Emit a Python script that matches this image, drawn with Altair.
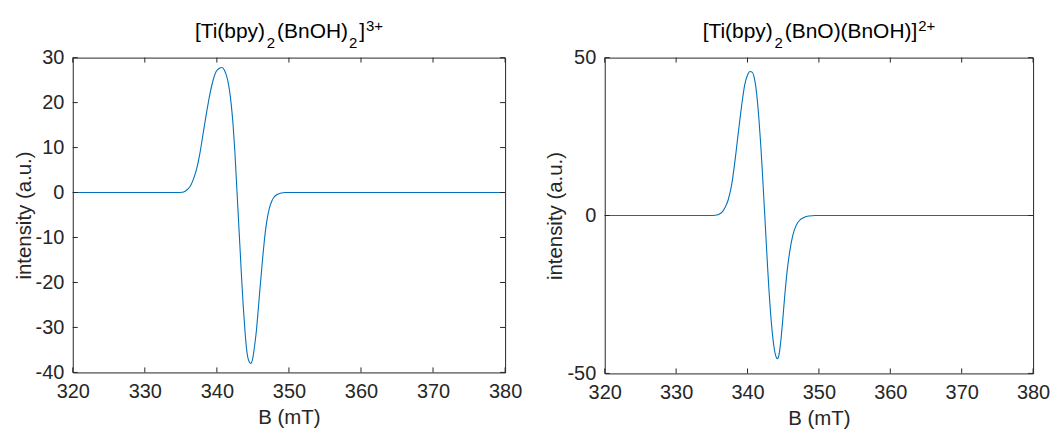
import altair as alt
import pandas as pd

# ---- data ----
x_ticks = [320, 330, 340, 350, 360, 370, 380]
left_y_ticks = [-40, -30, -20, -10, 0, 10, 20, 30]
right_y_ticks = [-50, 0, 50]

left_B = [320, 330, 334.5, 335.2, 335.6, 336.0, 336.4, 336.8, 337.2, 337.6, 338.1,
          338.55, 339.0, 339.45, 339.9, 340.3, 340.7, 341.05, 341.5, 342.0, 342.25,
          342.5, 342.8, 343.0, 343.2, 343.45, 343.67, 343.9, 344.1, 344.4, 344.7,
          345.0, 345.26, 345.5, 345.7, 345.95, 346.2, 346.4, 346.6, 346.8, 347.0,
          347.3, 347.6, 347.9, 348.3, 348.8, 349.5, 355, 380]
left_I = [0, 0, 0, 0.05, 0.3, 0.8, 1.7, 3.2, 5.3, 8.3, 13.2,
          17.6, 21.6, 24.8, 26.9, 27.6, 27.8, 27.2, 25.0, 19.5, 15.0,
          9.0, 0.0, -6.0, -12.0, -19.5, -25.5, -30.8, -34.5, -37.3, -38.0,
          -36.7, -33.8, -30.5, -26.8, -22.0, -17.4, -13.8, -10.5, -7.8, -5.7,
          -3.4, -2.0, -1.1, -0.5, -0.15, 0, 0, 0]

right_B = [320, 330, 334.3, 335.2, 335.7, 336.0, 336.4, 336.8, 337.3, 337.8, 338.2,
           338.7, 339.16, 339.6, 340.0, 340.35, 340.65, 340.95, 341.26, 341.6, 341.85,
           342.1, 342.42, 342.6, 342.8, 343.0, 343.2, 343.45, 343.72, 344.05, 344.2,
           344.4, 344.65, 344.93, 345.2, 345.53, 345.9, 346.35, 346.8, 347.3, 347.9,
           348.6, 349.5, 355, 380]
right_I = [0, 0, 0, 0.02, 0.15, 0.4, 1.0, 2.3, 5.0, 10.0, 16.5,
           26.0, 34.5, 41.3, 44.5, 45.6, 45.4, 43.6, 39.0, 30.5, 22.5,
           13.0, 0, -7.6, -15.8, -23.4, -30.0, -36.6, -41.8, -45.0, -45.3,
           -44.2, -40.0, -33.2, -25.8, -18.0, -11.6, -6.2, -3.2, -1.5, -0.6,
           -0.15, 0, 0, 0]

# title pieces: (text, role) — role: main / sub / sup
left_title = [("[Ti(bpy)", "main"), ("2", "sub"), ("(BnOH)", "main"), ("2", "sub"),
              ("]", "main"), ("3+", "sup")]
right_title = [("[Ti(bpy)", "main"), ("2", "sub"), ("(BnO)(BnOH)", "main"),
               ("]", "main"), ("2+", "sup")]

FONT = "Liberation Sans"
AX = "#262626"
LINE = "#0072BD"
TICK = 5
MINUS_FIX = "replace(datum.label, '\u2212', '-')"

# Arial / Liberation Sans advance widths (per 1000 em)
ADV = {"[": 278, "]": 278, "T": 611, "i": 222, "(": 333, ")": 333, "b": 556,
       "p": 556, "y": 500, "B": 667, "n": 556, "O": 778, "H": 722, "2": 556,
       "3": 556, "+": 584}
MAIN_FS, SMALL_FS = 21, 15
BASE = {"main": -19.5, "sub": -9.5, "sup": -27.0}


def text_width(s, fs):
    return sum(ADV[c] for c in s) * fs / 1000.0


def title_layers(pieces, w):
    placed = []
    x = 0.0
    for txt, role in pieces:
        fs = MAIN_FS if role == "main" else SMALL_FS
        if role == "sub":
            x += 1.0
        elif role == "sup":
            x += 0.8
        placed.append((txt, role, fs, x))
        x += text_width(txt, fs)
        if role == "sub":
            x += 2.0
    start = w / 2.0 - x / 2.0
    layers = []
    for txt, role, fs, off in placed:
        layers.append(
            alt.Chart(pd.DataFrame({"t": [txt]})).mark_text(
                align="left", baseline="alphabetic", font=FONT, fontSize=fs,
                color="black").encode(
                text=alt.Text("t:N"), x=alt.value(start + off), y=alt.value(BASE[role]))
        )
    return layers


def panel(B, I, yticks, ydomain, pieces, w, h):
    df = pd.DataFrame({"B": B, "intensity": I})
    xt = pd.DataFrame({"B": x_ticks})
    yt = pd.DataFrame({"intensity": yticks})
    xs = alt.Scale(domain=[320, 380], nice=False, zero=False)
    ys = alt.Scale(domain=ydomain, nice=False, zero=False)
    xax = alt.Axis(values=x_ticks, title="B (mT)", labelFlush=False,
                   labelPadding=9, titlePadding=6)
    yax = alt.Axis(values=yticks, title="intensity (a.u.)", labelExpr=MINUS_FIX,
                   labelPadding=9, titlePadding=1)
    X = alt.X("B:Q", scale=xs, axis=xax)
    Y = alt.Y("intensity:Q", scale=ys, axis=yax)
    line = alt.Chart(df).mark_line(color=LINE, strokeWidth=1.1,
                                   interpolate="monotone").encode(x=X, y=Y)
    xb = alt.Chart(xt).mark_rule(color=AX, strokeWidth=1).encode(
        x=X, y=alt.value(h), y2=alt.value(h - TICK))
    xtop = alt.Chart(xt).mark_rule(color=AX, strokeWidth=1).encode(
        x=X, y=alt.value(0), y2=alt.value(TICK))
    yl = alt.Chart(yt).mark_rule(color=AX, strokeWidth=1).encode(
        y=Y, x=alt.value(0), x2=alt.value(TICK))
    yr = alt.Chart(yt).mark_rule(color=AX, strokeWidth=1).encode(
        y=Y, x=alt.value(w), x2=alt.value(w - TICK))
    return alt.layer(line, xb, xtop, yl, yr, *title_layers(pieces, w)).properties(
        width=w, height=h)


left = panel(left_B, left_I, left_y_ticks, [-40, 30], left_title, 434, 316)
right = panel(right_B, right_I, right_y_ticks, [-50, 50], right_title, 430, 317)

chart = alt.hconcat(left, right, spacing=22).properties(
    background="white",
    padding={"left": 5, "top": 9, "right": 5, "bottom": 5},
).configure_view(
    stroke=AX, strokeWidth=1
).configure_axis(
    domain=False, ticks=False, grid=False,
    labelFont=FONT, titleFont=FONT, labelFontSize=20, titleFontSize=20.5,
    labelColor=AX, titleColor=AX, titleFontWeight="normal",
)

chart.save("out.html", embed_options={"renderer": "svg", "actions": False})
